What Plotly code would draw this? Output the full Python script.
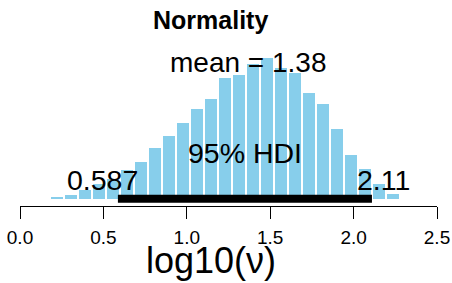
import plotly.graph_objects as go

# Posterior histogram of log10(nu): density per bin
bin_start = 0.178
bin_width = 0.0841
density = [0.007, 0.031, 0.062, 0.111, 0.147, 0.212, 0.270, 0.366, 0.456, 0.550,
           0.654, 0.724, 0.877, 0.899, 0.980, 1.025, 0.951, 0.911, 0.766, 0.690,
           0.509, 0.321, 0.217, 0.106, 0.033]
bin_centers = [bin_start + bin_width * (i + 0.5) for i in range(len(density))]

mean_val = 1.38
hdi_low = 0.587
hdi_high = 2.11
tick_vals = [0.0, 0.5, 1.0, 1.5, 2.0, 2.5]
tick_text = ["0.0", "0.5", "1.0", "1.5", "2.0", "2.5"]

W, H = 452, 283
L, R, T, B = 20, 15, 31, 76.5
PH = H - T - B
PW = W - L - R

def py(ypx):
    return (H - B - ypx) / PH

def px(xpx):
    return (xpx - L) / PW

FONT = "Liberation Sans, Arial, Helvetica, sans-serif"

fig = go.Figure()
fig.add_trace(go.Bar(
    x=bin_centers, y=density, width=bin_width * 0.86,
    marker=dict(color="#87CEEB", line=dict(width=0)),
    hoverinfo="skip",
))
fig.add_trace(go.Scatter(
    x=[hdi_low, hdi_high], y=[0, 0], mode="lines",
    line=dict(color="black", width=8), cliponaxis=False, hoverinfo="skip",
))

ann = []
def add(text, xc, yc, size, bold=False):
    ann.append(dict(text=("<b>%s</b>" % text) if bold else text,
                    x=px(xc), y=py(yc), xref="paper", yref="paper",
                    xanchor="center", yanchor="middle", showarrow=False,
                    font=dict(family=FONT, size=size, color="black")))

add("Normality", 210.5, 19.5, 25, bold=True)
add("mean = %.2f" % mean_val, 248.3, 62.5, 28)
add("95% HDI", 244.5, 153.5, 28.5)
add("%.3f" % hdi_low, 102.2, 180, 28.5)
add("%.2f" % hdi_high, 383, 180, 28.5)
add("log10(\u03bd)", 210.8, 261, 36)

fig.update_layout(
    width=W, height=H,
    margin=dict(l=L, r=R, t=T, b=B, pad=0, autoexpand=False),
    paper_bgcolor="white", plot_bgcolor="white",
    showlegend=False, bargap=0,
    annotations=ann,
    xaxis=dict(range=[0, 2.5], tickvals=tick_vals, ticktext=tick_text,
               automargin=False,
               showgrid=False, zeroline=False, showline=True, linecolor="black",
               linewidth=1.3, ticks="outside", ticklen=12, tickwidth=1.3,
               tickcolor="black", ticklabelstandoff=2,
               tickfont=dict(family=FONT, size=19, color="black")),
    yaxis=dict(range=[-7.2 / 138.1, (199.3 - T) / 138.1], visible=False,
               automargin=False, showgrid=False, zeroline=False),
)

fig.write_html("out.html", config={"displayModeBar": False},
               post_script="document.body.style.margin='0px';document.body.style.overflow='hidden';")
